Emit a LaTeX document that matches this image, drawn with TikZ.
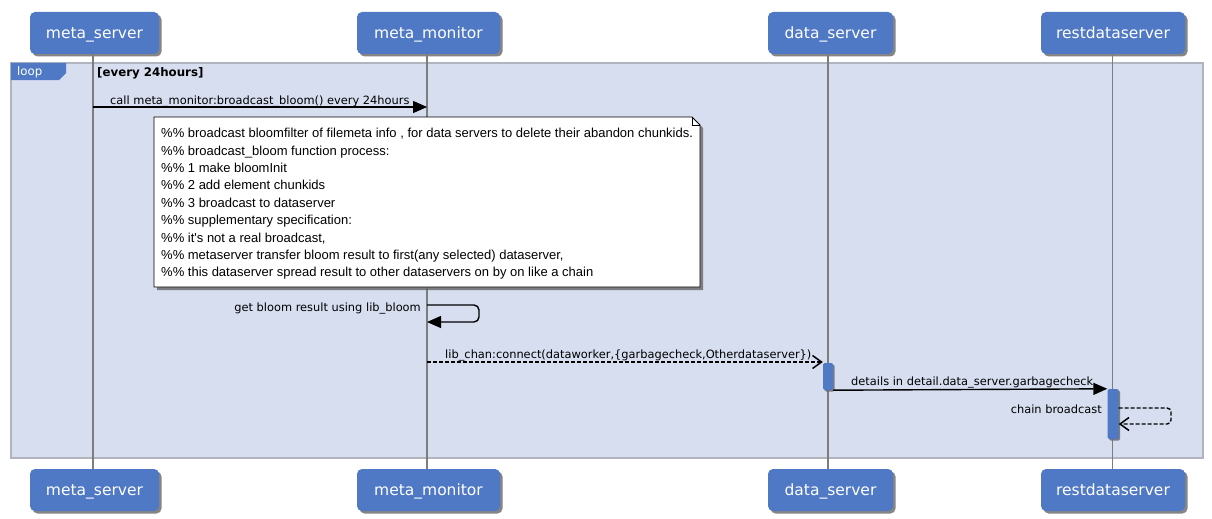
\documentclass[tikz,border=0pt]{standalone}
\usepackage{fontspec}
\setmainfont{DejaVu Sans}
\newfontfamily\notefont{Liberation Sans}
\usetikzlibrary{arrows.meta,shadows}
\definecolor{pblue}{RGB}{79,121,196}
\definecolor{framefill}{RGB}{214,222,240}
\definecolor{frameline}{RGB}{175,180,190}
\definecolor{lifegray}{RGB}{125,125,125}
\tikzset{
  participant/.style={draw=none, fill=pblue, rounded corners=5pt, minimum height=42pt,
    text=white, font=\fontsize{15.5}{18}\selectfont, inner sep=0pt, text height=13pt, text depth=2pt,
    drop shadow={shadow xshift=2.5pt, shadow yshift=-2.5pt, fill=black!60, opacity=0.8}},
  lifeline/.style={draw=lifegray, line width=1.6pt},
  msg/.style={draw=black, line width=1.4pt, -{Triangle[length=14pt,width=12pt]}},
  retmsg/.style={draw=black, line width=1.4pt, dashed, dash pattern=on 4pt off 2pt, -{Straight Barb[length=9pt,width=13pt,line width=1.5pt]}},
  msglabel/.style={font=\fontsize{11.4}{13}\selectfont, inner sep=0pt},
  activation/.style={fill=pblue, draw=none, rounded corners=1.5pt,
    drop shadow={shadow xshift=1.5pt, shadow yshift=-1.5pt, fill=black!60, opacity=0.8}}
}
\begin{document}
\begin{tikzpicture}[x=1pt,y=-1pt]
\useasboundingbox (0,0) rectangle (1212,519);
% loop frame
\path[fill=framefill, draw=frameline, line width=1.4pt] (11,63) rectangle (1203,458);
\path[fill=pblue] (11,63) -- (66,63) -- (66,73) -- (59,80) -- (11,80) -- cycle;
\node[anchor=west, text=white, font=\fontsize{11.8}{13}\selectfont, inner sep=0pt] (looplbl) at (17,72) {loop};
\node[anchor=west, font=\bfseries\fontsize{11.8}{13}\selectfont, inner sep=0pt] (guard) at (97,73) {[every 24hours]};

% participants
\node[participant, minimum width=129pt] (ms_t) at (94.5,33) {meta\_server};
\node[participant, minimum width=143pt] (mm_t) at (428.5,33) {meta\_monitor};
\node[participant, minimum width=125pt] (ds_t) at (830.5,33) {data\_server};
\node[participant, minimum width=144pt] (rd_t) at (1113,33) {restdataserver};
\node[participant, minimum width=129pt] (ms_b) at (94.5,490) {meta\_server};
\node[participant, minimum width=143pt] (mm_b) at (428.5,490) {meta\_monitor};
\node[participant, minimum width=125pt] (ds_b) at (830.5,490) {data\_server};
\node[participant, minimum width=144pt] (rd_b) at (1113,490) {restdataserver};

% lifelines
\coordinate (msl_t) at (93,54); \coordinate (msl_b) at (93,469);
\coordinate (mml_t) at (427,54); \coordinate (mml_b) at (427,469);
\coordinate (dsl_t) at (828,54); \coordinate (dsl_b) at (828,469);
\coordinate (rdl_t) at (1112.5,54); \coordinate (rdl_b) at (1112.5,469);
\draw[lifeline] (msl_t) -- (msl_b);
\draw[lifeline] (mml_t) -- (mml_b);
\draw[lifeline] (dsl_t) -- (dsl_b);
\draw[lifeline] (rdl_t) -- (rdl_b);

% message 1
\coordinate (m1s) at (93,107); \coordinate (m1e) at (427,107);
\draw[msg] (m1s) -- (m1e);
\node[msglabel, anchor=base west] (m1l) at (110,104) {call meta\_monitor:broadcast\_bloom() every 24hours};

% note
\path[fill=white, draw=black, line width=0.8pt,
  drop shadow={shadow xshift=3pt, shadow yshift=-3pt, fill=black!60, opacity=0.8}]
  (154,117) -- (692,117) -- (700,125) -- (700,287) -- (154,287) -- cycle;
\draw[line width=0.8pt] (692,117) -- (692,125) -- (700,125);
\node[anchor=north west, align=left, inner sep=0pt, font=\notefont\fontsize{13}{17.4}\selectfont] (note) at (161,128) {%
\%\% broadcast bloomfilter of filemeta info , for data servers to delete their abandon chunkids.\\
\%\% broadcast\_bloom function process:\\
\%\% 1 make bloomInit\\
\%\% 2 add element chunkids\\
\%\% 3 broadcast to dataserver\\
\%\% supplementary specification:\\
\%\% it's not a real broadcast,\\
\%\% metaserver transfer bloom result to first(any selected) dataserver,\\
\%\% this dataserver spread result to other dataservers on by on like a chain};

% self message on meta_monitor
\coordinate (s1a) at (427,305); \coordinate (s1b) at (427,322);
\draw[msg, rounded corners=5pt] (s1a) -- (479,305) -- (479,322) -- (s1b);
\node[msglabel, anchor=base east] (s1l) at (421,311) {get bloom result using lib\_bloom};

% activations
\node[activation, minimum width=10pt, minimum height=27pt, inner sep=0pt] (act1) at (828,376.5) {};
\node[activation, minimum width=11pt, minimum height=50pt, inner sep=0pt] (act2) at (1113,414) {};

% dashed connect
\coordinate (m2s) at (427,362);
\draw[retmsg] (m2s) -- (act1.north west |- m2s);
\node[msglabel, anchor=base west] (m2l) at (445,358.5) {lib\_chan:connect(dataworker,\{garbagecheck,Otherdataserver\})};

% details message
\draw[msg] (act1.south east) -- (act2.north west);
\node[msglabel, anchor=base west] (m3l) at (851,385.5) {details in detail.data\_server.garbagecheck};

% chain broadcast self
\coordinate (s2a) at (act2.east |- 0,408); \coordinate (s2b) at (act2.east |- 0,424);
\draw[retmsg, rounded corners=4pt] (s2a) -- (1171,408) -- (1171,424) -- (s2b);
\node[msglabel, anchor=base east] (s2l) at (1102,413.5) {chain broadcast};
\end{tikzpicture}
\end{document}
